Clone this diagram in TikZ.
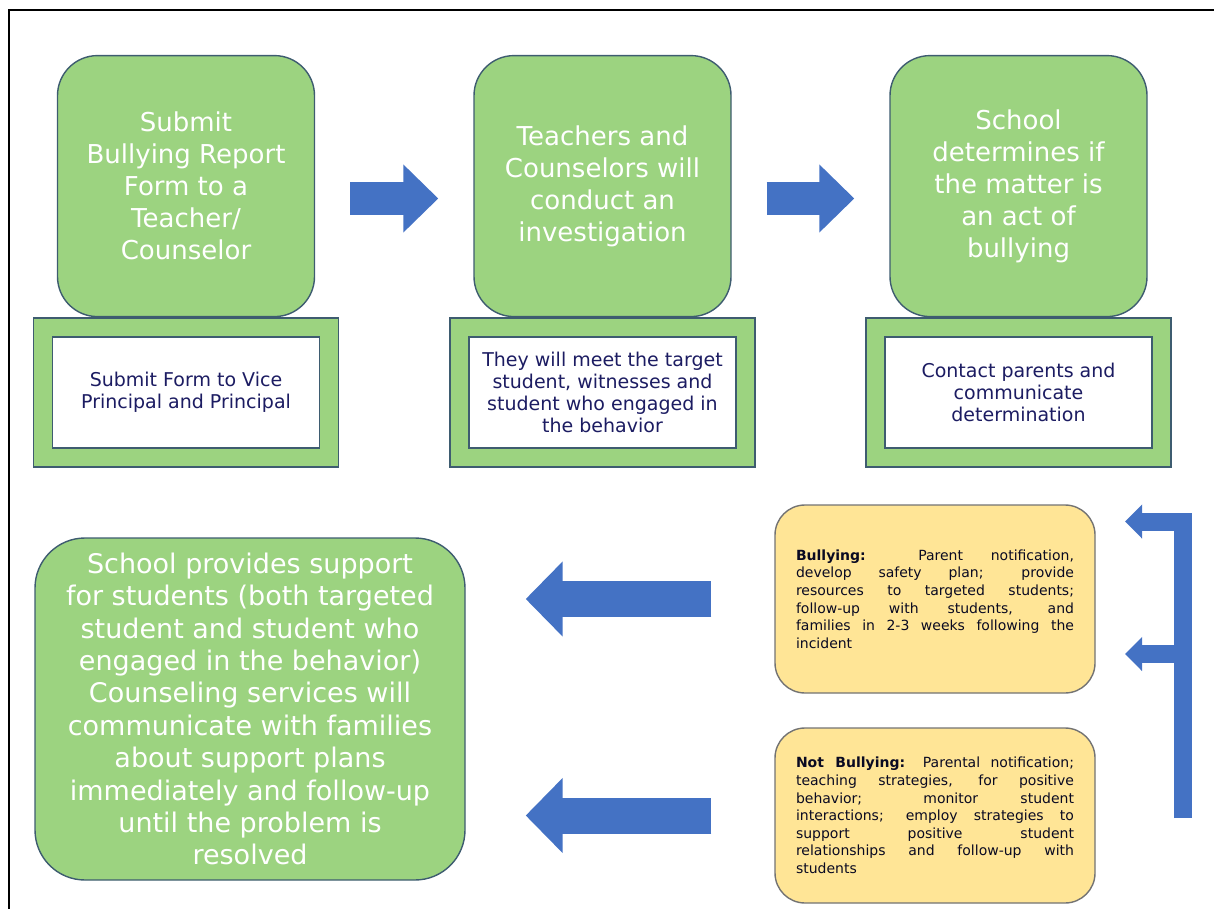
\documentclass[tikz,border=0pt]{standalone}
\usepackage{fontspec}
\setmainfont{DejaVu Sans}
\usepackage{tikz}
\usetikzlibrary{arrows.meta, positioning}
\definecolor{stageG}{RGB}{156, 211, 128}
\definecolor{edgeG}{RGB}{62, 92, 112}
\definecolor{flowB}{RGB}{68, 114, 196}
\definecolor{noteY}{RGB}{255, 229, 150}
\definecolor{noteE}{RGB}{115, 115, 115}
\definecolor{inkN}{RGB}{28, 28, 98}

\begin{document}
\begin{tikzpicture}[x=0.5pt, y=-0.5pt,
  stage/.style={draw=edgeG, line width=0.7pt, fill=stageG, rounded corners=20pt,
    minimum width=128.5pt, minimum height=130.5pt, inner sep=0pt,
    text=white, align=center, font=\fontsize{13}{16}\selectfont},
  frame/.style={draw=edgeG, line width=0.7pt, fill=stageG,
    minimum width=152.5pt, minimum height=74.5pt, inner sep=0pt},
  card/.style={draw=edgeG, line width=0.7pt, fill=white,
    minimum width=133.5pt, minimum height=55.5pt, inner sep=0pt,
    text=inkN, align=center, font=\fontsize{9.5}{11}\selectfont},
  note/.style={draw=noteE, line width=0.7pt, fill=noteY, rounded corners=15pt,
    text width=139pt, inner xsep=10.5pt, inner ysep=0pt, align=justify,
    text=inkN!35!black, font=\fontsize{7}{8.8}\selectfont},
  block/.style={flowB, line width=16.5pt, -{Triangle[length=17.5pt, width=33pt]},
    shorten <=5.5pt, shorten >=17.5pt},
  back/.style={flowB, line width=18pt, -{Triangle[length=18.5pt, width=36.5pt]},
    shorten <=31.5pt, shorten >=30pt},
  hook/.style={flowB, line width=9pt, line join=miter, -{Triangle[length=8.5pt, width=16.5pt]}}]
  \useasboundingbox (0,0) rectangle (1214,909);

  % page frame
  \draw[black, line width=1pt] (1214,10) -- (9,10) -- (9,909);

  % first row: green frames first, stage boxes sit on top of them
  \node[frame] (frame1) at (186,392.5) {};
  \node[frame] (frame2) at (602.5,392.5) {};
  \node[frame] (frame3) at (1018.5,392.5) {};

  \node[stage, above=0pt of frame1] (top1) {Submit\\Bullying Report\\Form to a\\Teacher/\\Counselor};
  \node[stage, above=0pt of frame2] (top2) {Teachers and\\Counselors will\\conduct an\\investigation};
  \node[stage, above=0pt of frame3] (top3) {School\\determines if\\the matter is\\an act of\\bullying};

  \node[card] (card1) at (frame1) {Submit Form to Vice\\Principal and Principal};
  \node[card] (card2) at (frame2) {They will meet the target\\student, witnesses and\\student who engaged in\\the behavior};
  \node[card] (card3) at (frame3) {Contact parents and\\communicate\\determination};

  \draw[block] (frame1.east |- 0,198.5) -- (top2.west |- 0,198.5);
  \draw[block] (frame2.east |- 0,198.5) -- (top3.west |- 0,198.5);

  % second row: outcomes
  \node[note, minimum height=94pt] (bully) at (935,599)
    {\textbf{Bullying:} Parent notification,\linebreak
     develop safety plan; provide\linebreak
     resources to targeted students;\linebreak
     follow-up with students, and\linebreak
     families in 2-3 weeks following the\linebreak
     incident};
  \node[note, minimum height=87.5pt] (notbully) at (935,815.5)
    {\textbf{Not Bullying:} Parental notification;\linebreak
     teaching strategies, for positive\linebreak
     behavior; monitor student\linebreak
     interactions; employ strategies to\linebreak
     support positive student\linebreak
     relationships and follow-up with\linebreak
     students};

  \node[stage, rounded corners=25pt, minimum width=215pt, minimum height=171pt,
    font=\fontsize{13.5}{16.2}\selectfont] (support) at (250,709)
    {School provides support\\for students (both targeted\\student and student who\\engaged in the behavior)\\Counseling services will\\communicate with families\\about support plans\\immediately and follow-up\\until the problem is\\resolved};

  \draw[back] (bully.west) -- (support.east |- bully.west);
  \draw[back] (notbully.west) -- (support.east |- notbully.west);

  % decision bracket
  \coordinate (spine) at (1183,818);
  \coordinate (hookA) at (1125,521.5);
  \coordinate (hookB) at (1125,654);
  \draw[hook] (spine) |- (hookA);
  \draw[hook] (spine |- hookB) ++(4.5pt,0) -- (hookB);
\end{tikzpicture}
\end{document}
